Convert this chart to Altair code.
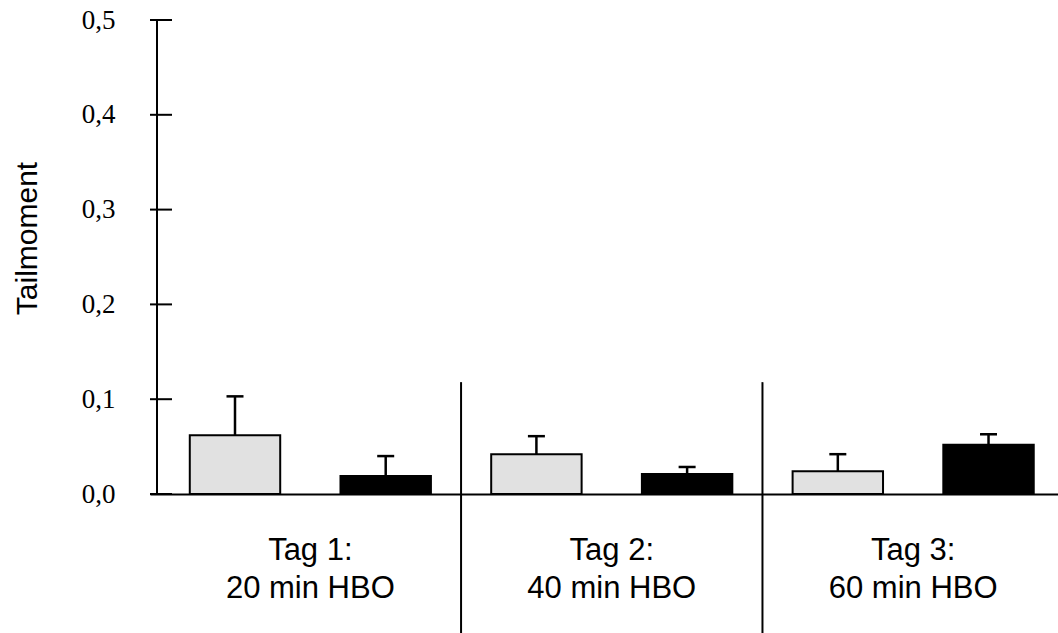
import altair as alt
import pandas as pd

# ---- data ----
days = ["Tag 1:", "Tag 2:", "Tag 3:"]
durations = ["20 min HBO", "40 min HBO", "60 min HBO"]
series = ["hell", "dunkel"]
light_mean = [0.062, 0.042, 0.024]
light_err = [0.041, 0.019, 0.018]
dark_mean = [0.019, 0.021, 0.052]
dark_err = [0.021, 0.0075, 0.011]
y_ticks = [0.0, 0.1, 0.2, 0.3, 0.4, 0.5]

rows = []
for d in range(3):
    pairs = [(light_mean[d], light_err[d]), (dark_mean[d], dark_err[d])]
    for s, (m, e) in enumerate(pairs):
        pos = 2 * d + s
        rows.append(dict(pos=pos, left=pos - 0.3, right=pos + 0.3,
                         series=series[s], mean=m, base=0.0, top=m + e))
bars = pd.DataFrame(rows)

groups = pd.DataFrame(dict(center=[2 * d + 0.5 for d in range(3)],
                           label=[f"{a}\n{b}" for a, b in zip(days, durations)]))
seps = pd.DataFrame(dict(x=[1.5, 3.5], ytop=[0.118, 0.118]))
ticks = pd.DataFrame(dict(v=y_ticks))
yline = pd.DataFrame(dict(lo=[min(y_ticks)], hi=[max(y_ticks)]))

W, H = 908, 474
xs = alt.Scale(domain=[-0.564, 5.461], nice=False, zero=False)
ys = alt.Scale(domain=[0, 0.5], nice=False, zero=False)

x_axis = alt.Axis(domain=True, domainColor="black", domainWidth=2,
                  labels=False, ticks=False, grid=False, title=None)
y_axis = alt.Axis(values=y_ticks,
                  labelExpr="replace(format(datum.value, '.1f'), '.', ',')",
                  domain=False, ticks=False, grid=False,
                  labelFont="Liberation Serif", labelFontSize=27,
                  labelColor="black", labelPadding=35,
                  title="Tailmoment", titleFont="Liberation Sans",
                  titleFontSize=30, titleFontWeight="normal",
                  titleColor="black", titleAngle=-90,
                  titleX=-114, titleY=218, titleAlign="center",
                  titleBaseline="alphabetic")

bar_layer = alt.Chart(bars).mark_bar(stroke="black", strokeWidth=2).encode(
    x=alt.X("left:Q", scale=xs, axis=x_axis),
    x2="right:Q",
    y=alt.Y("mean:Q", scale=ys, axis=y_axis),
    y2="base:Q",
    fill=alt.Color("series:N", scale=alt.Scale(domain=series, range=["#e1e1e1", "#000000"]),
                   legend=None),
)

stem_layer = alt.Chart(bars).mark_rule(color="black", strokeWidth=2.5).encode(
    x=alt.X("pos:Q", scale=xs, axis=x_axis),
    y=alt.Y("mean:Q", scale=ys, axis=y_axis),
    y2="top:Q",
)

cap_layer = alt.Chart(bars).mark_tick(orient="horizontal", color="black",
                                      size=17, thickness=2.5, opacity=1).encode(
    x=alt.X("pos:Q", scale=xs, axis=x_axis),
    y=alt.Y("top:Q", scale=ys, axis=y_axis),
)

yaxis_line = alt.Chart(yline).mark_rule(color="black", strokeWidth=2).encode(
    x=alt.value(7),
    y=alt.Y("lo:Q", scale=ys, axis=y_axis),
    y2="hi:Q",
)

tick_layer = alt.Chart(ticks).mark_rule(color="black", strokeWidth=2).encode(
    x=alt.value(0), x2=alt.value(22),
    y=alt.Y("v:Q", scale=ys, axis=y_axis),
)

sep_layer = alt.Chart(seps).mark_rule(color="black", strokeWidth=2).encode(
    x=alt.X("x:Q", scale=xs, axis=x_axis),
    y=alt.Y("ytop:Q", scale=ys, axis=y_axis),
    y2=alt.value(H + 139),
)

label_layer = alt.Chart(groups).mark_text(
    font="Liberation Sans", fontSize=31, lineBreak="\n", lineHeight=38,
    baseline="alphabetic", align="center", color="black",
).encode(
    x=alt.X("center:Q", scale=xs, axis=x_axis),
    y=alt.value(540),
    text="label:N",
)

chart = alt.layer(
    bar_layer, stem_layer, cap_layer, sep_layer, yaxis_line, tick_layer, label_layer
).properties(
    width=W, height=H,
    background="white",
    autosize=alt.AutoSizeParams(type="none"),
    padding={"left": 150, "top": 20, "right": 0, "bottom": 139},
).configure_view(strokeWidth=0, stroke="transparent")

chart.save("out.html", embed_options={"renderer": "svg", "actions": False})
